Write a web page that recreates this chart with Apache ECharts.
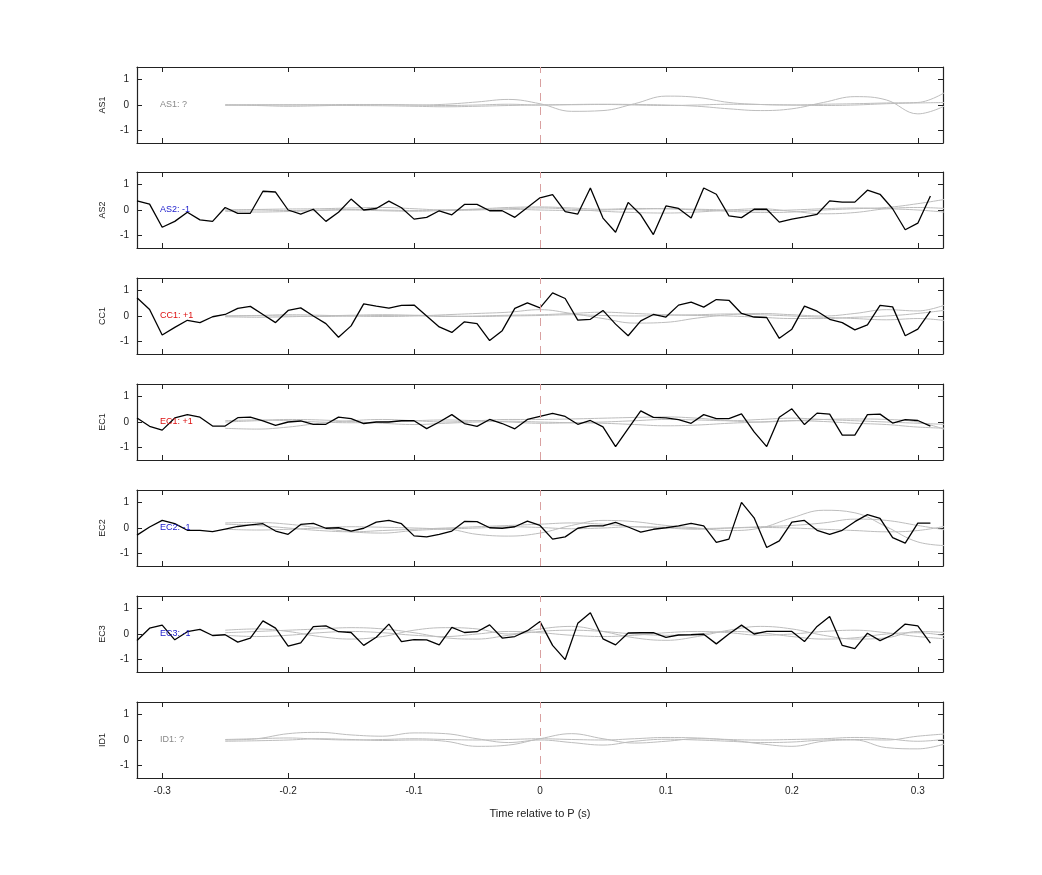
<!DOCTYPE html>
<html>
<head>
<meta charset="utf-8">
<script src="https://cdn.jsdelivr.net/npm/echarts@6/dist/echarts.min.js"></script>
<style>
  html, body { margin: 0; padding: 0; background: #fff; }
  #chart { width: 1042px; height: 875px; }
</style>
</head>
<body>
<div id="chart"></div>
<script>
// black traces, sampled every 0.01 s from -0.32 to 0.31
var traceTimes = [];
for (var i = 0; i < 64; i++) { traceTimes.push(Math.round((-0.32 + i * 0.01) * 100) / 100); }

var as2Trace = [0.36, 0.23, -0.68, -0.45, -0.09, -0.39, -0.45, 0.10, -0.13, -0.13, 0.74, 0.71, 0, -0.16, 0.03, -0.45, -0.09, 0.43, 0, 0.06, 0.35, 0.09, -0.36, -0.29, -0.03, -0.19, 0.22, 0.22, -0.03, -0.03, -0.29, 0.10, 0.48, 0.61, -0.06, -0.16, 0.87, -0.32, -0.88, 0.30, -0.19, -0.97, 0.16, 0.06, -0.32, 0.87, 0.62, -0.23, -0.30, 0.03, 0.03, -0.48, -0.36, -0.27, -0.17, 0.36, 0.31, 0.31, 0.78, 0.62, 0.05, -0.78, -0.52, 0.55];
var cc1Trace = [0.72, 0.26, -0.75, -0.45, -0.17, -0.26, -0.03, 0.06, 0.30, 0.38, 0.06, -0.26, 0.22, 0.32, 0, -0.30, -0.84, -0.39, 0.48, 0.39, 0.31, 0.42, 0.43, 0, -0.43, -0.65, -0.23, -0.30, -0.97, -0.58, 0.30, 0.52, 0.32, 0.91, 0.69, -0.16, -0.13, 0.22, -0.32, -0.78, -0.19, 0.06, -0.04, 0.43, 0.55, 0.35, 0.65, 0.62, 0.10, -0.04, -0.06, -0.88, -0.52, 0.39, 0.19, -0.13, -0.26, -0.55, -0.35, 0.42, 0.36, -0.78, -0.52, 0.19];
var ec1Trace = [0.16, -0.17, -0.32, 0.16, 0.29, 0.19, -0.16, -0.16, 0.17, 0.19, 0.04, -0.13, 0, 0.04, -0.09, -0.09, 0.19, 0.13, -0.06, 0, 0, 0.05, 0.05, -0.26, 0, 0.29, -0.06, -0.17, 0.10, -0.06, -0.27, 0.10, 0.22, 0.34, 0.22, -0.09, 0.06, -0.19, -0.97, -0.26, 0.44, 0.18, 0.16, 0.09, -0.05, 0.29, 0.13, 0.13, 0.32, -0.39, -0.97, 0.19, 0.52, -0.10, 0.35, 0.31, -0.52, -0.52, 0.29, 0.31, -0.04, 0.09, 0.06, -0.16];
var ec2Trace = [-0.28, 0.04, 0.30, 0.17, -0.09, -0.09, -0.14, -0.04, 0.06, 0.12, 0.17, -0.12, -0.25, 0.14, 0.18, -0.01, 0.01, -0.12, -0.01, 0.23, 0.30, 0.17, -0.31, -0.35, -0.25, -0.12, 0.26, 0.25, 0.01, -0.01, 0.05, 0.27, 0.10, -0.44, -0.35, -0.01, 0.08, 0.08, 0.22, 0.04, -0.16, -0.05, 0.01, 0.08, 0.18, 0.08, -0.57, -0.44, 1.01, 0.40, -0.77, -0.51, 0.23, 0.30, -0.09, -0.25, -0.09, 0.25, 0.53, 0.38, -0.38, -0.60, 0.19, 0.19];
var ec3Trace = [-0.26, 0.23, 0.35, -0.23, 0.09, 0.18, -0.06, -0.03, -0.32, -0.16, 0.52, 0.23, -0.48, -0.35, 0.29, 0.32, 0.09, 0.06, -0.45, -0.13, 0.39, -0.30, -0.22, -0.23, -0.43, 0.26, 0.06, 0.09, 0.36, -0.16, -0.10, 0.13, 0.49, -0.45, -1.01, 0.42, 0.84, -0.19, -0.43, 0.04, 0.05, 0.05, -0.13, -0.04, -0.03, -0.01, -0.39, 0, 0.35, 0, 0.10, 0.10, 0.10, -0.30, 0.30, 0.69, -0.45, -0.58, 0.03, -0.26, -0.03, 0.39, 0.32, -0.36];

// gray traces, sampled every 0.025 s from -0.25 to 0.325
var grayTimes = [];
for (var k = 0; k < 24; k++) { grayTimes.push(Math.round((-0.25 + k * 0.025) * 1000) / 1000); }

var as1Gray = [
  [0, -0.02, -0.05, -0.03, 0, 0.01, 0, 0.03, 0.12, 0.22, 0.05, -0.25, -0.22, 0.05, 0.35, 0.3, 0.1, 0.02, 0, 0.03, 0.05, 0.08, 0.1, 0.6],
  [0, 0, 0.01, 0, -0.02, -0.03, -0.05, -0.07, -0.05, -0.02, 0, 0.02, 0.03, 0.02, 0, -0.05, -0.15, -0.22, -0.15, 0.1, 0.33, 0.2, -0.35, 0.05],
  [0, 0.01, 0, 0.01, 0.02, 0.02, 0, -0.02, 0, 0.03, 0, 0.01, 0.02, 0, -0.02, 0, 0.03, 0.02, 0, -0.02, 0, 0.05, 0.08, 0.1]
];
var as2Gray = [
  [0, 0.02, 0.04, 0.05, 0.08, 0.1, 0.05, 0, 0.04, 0.1, 0.12, 0.08, 0.03, 0.06, 0.05, 0.0, -0.05, -0.1, -0.08, 0, 0.05, 0.1, 0.25, 0.45],
  [-0.05, -0.08, -0.06, -0.02, 0, -0.03, -0.05, -0.02, 0, 0.05, 0.08, 0.03, -0.05, -0.1, -0.12, -0.08, 0, 0.05, -0.05, -0.15, -0.1, 0.05, 0.1, 0.05],
  [0, 0, -0.02, 0, 0.02, 0, -0.02, 0, 0.02, 0.03, 0, -0.02, 0, 0.03, 0.05, 0.03, 0, -0.03, 0, 0.05, 0.08, 0.05, 0, -0.1]
];
var cc1Gray = [
  [0, 0.02, 0.05, 0.03, 0, -0.02, 0, 0.05, 0.1, 0.15, 0.25, 0.1, -0.1, -0.28, -0.25, -0.08, 0.05, 0.1, 0.05, 0, 0.1, 0.25, 0.2, 0.5],
  [-0.03, -0.05, -0.03, 0, 0.03, 0.05, 0.02, -0.02, 0, 0.03, 0.05, 0.1, 0.15, 0.1, 0.05, 0.02, 0, -0.05, -0.1, -0.1, -0.05, 0, 0.1, 0.25],
  [0, 0.01, 0, -0.02, 0, 0.02, 0.03, 0, -0.02, 0, 0.02, 0.05, 0.02, 0, 0.03, 0.05, 0.08, 0.05, 0, -0.05, -0.1, -0.15, -0.1, -0.2]
];
var ec1Gray = [
  [-0.25, -0.28, -0.2, -0.05, 0.05, 0.1, 0.05, 0, 0.05, 0.1, 0.1, 0.12, 0.15, 0.18, 0.2, 0.15, 0.05, 0.0, 0.05, 0.1, 0.12, 0.1, 0, -0.35],
  [0, 0.05, 0.1, 0.08, 0.02, -0.05, -0.1, -0.05, 0, 0.03, 0, -0.03, -0.05, -0.1, -0.15, -0.12, -0.05, 0, 0.05, 0.02, -0.05, -0.1, -0.2, -0.25],
  [0.05, 0.08, 0.05, 0, -0.03, 0, 0.05, 0.08, 0.05, 0, -0.05, -0.03, 0, 0.05, 0.1, 0.08, 0.05, 0.1, 0.15, 0.1, 0.05, 0, -0.05, -0.1]
];
var ec2Gray = [
  [0.2, 0.22, 0.15, 0, -0.15, -0.2, -0.1, -0.05, -0.25, -0.32, -0.2, 0.1, 0.3, 0.25, 0.1, 0, -0.1, 0, 0.4, 0.7, 0.6, 0.05, -0.55, -0.7],
  [0.15, 0.1, 0.0, -0.1, -0.15, -0.1, -0.05, 0, 0.05, 0.1, 0.15, 0.2, 0.15, 0.05, 0, -0.05, 0, 0.05, 0.1, 0.2, 0.35, 0.3, 0.1, -0.1],
  [-0.05, -0.08, -0.05, 0, 0.05, 0.03, 0, -0.03, 0, 0.05, 0.02, -0.03, 0, 0.05, 0.03, -0.02, 0, 0.02, 0, -0.05, -0.1, -0.15, -0.1, 0.1]
];
var ec3Gray = [
  [0.15, 0.2, 0.1, -0.1, -0.2, -0.1, 0.15, 0.25, 0.2, 0, 0.2, 0.3, 0.1, -0.15, -0.25, -0.1, 0.15, 0.3, 0.2, -0.05, -0.2, -0.15, 0.1, 0.05],
  [0.05, 0.1, 0.15, 0.2, 0.25, 0.2, 0.05, -0.15, -0.2, -0.05, 0.1, 0.15, 0.1, 0, -0.05, 0, 0.1, 0.05, -0.1, -0.2, -0.15, 0, 0.05, -0.1],
  [-0.05, -0.1, -0.05, 0.05, 0.1, 0.05, -0.05, -0.1, 0, 0.1, 0.05, -0.05, -0.1, -0.05, 0.05, 0.1, 0.05, -0.05, 0, 0.1, 0.15, 0.05, -0.1, -0.2]
];
var id1Gray = [
  [0, 0.05, 0.25, 0.3, 0.2, 0.15, 0.28, 0.25, 0.05, -0.1, 0.0, -0.1, -0.2, -0.05, 0.03, 0, -0.05, -0.1, -0.08, 0, 0.02, 0, 0.15, 0.25],
  [-0.05, -0.03, 0, 0.05, 0.02, -0.02, 0, -0.05, -0.25, -0.2, 0.05, 0.25, 0.05, -0.12, -0.05, 0.05, 0.0, -0.15, -0.25, -0.05, 0.0, -0.3, -0.35, -0.1],
  [0.02, 0.05, 0.08, 0.03, 0, 0.02, 0.05, 0.02, 0, 0.02, 0.05, 0.02, 0, 0.05, 0.1, 0.08, 0.02, 0, 0.02, 0.05, 0.1, 0.05, -0.05, 0.05]
];

var panelNames = ["AS1", "AS2", "CC1", "EC1", "EC2", "EC3", "ID1"];
var panelTags = ["AS1: ?", "AS2: -1", "CC1: +1", "EC1: +1", "EC2: -1", "EC3: -1", "ID1: ?"];
var tagColors = ["#888888", "#1a1acc", "#dd1111", "#dd1111", "#1a1acc", "#1a1acc", "#888888"];
var panelTraces = [null, as2Trace, cc1Trace, ec1Trace, ec2Trace, ec3Trace, null];
var panelGrays = [as1Gray, as2Gray, cc1Gray, ec1Gray, ec2Gray, ec3Gray, id1Gray];
var xTicks = [-0.3, -0.2, -0.1, 0, 0.1, 0.2, 0.3];
var yTicks = [-1, 0, 1];

var panelTops = [67, 172, 278, 384, 490, 596, 702];
var panelHeight = 76;
var font = "Helvetica, Arial, 'Liberation Sans', sans-serif";

var grids = [], xAxes = [], yAxes = [], series = [], titles = [];

panelNames.forEach(function (name, p) {
    grids.push({ left: 137, width: 806, top: panelTops[p], height: panelHeight });
    var last = p === panelNames.length - 1;
    ["bottom", "top"].forEach(function (pos) {
        xAxes.push({
            type: "value", gridIndex: p, position: pos, min: -0.32, max: 0.32,
            axisLine: { show: true, onZero: false, lineStyle: { color: "#222", width: 1.2 } },
            axisTick: { show: true, inside: true, length: 5, customValues: xTicks, lineStyle: { color: "#222" } },
            axisLabel: { show: last && pos === "bottom", customValues: xTicks, color: "#222", fontSize: 10, fontFamily: font, margin: 8 },
            splitLine: { show: false },
            name: last && pos === "bottom" ? "Time relative to P (s)" : "",
            nameLocation: "middle", nameGap: 30,
            nameTextStyle: { color: "#222", fontSize: 11, fontFamily: font }
        });
    });
    ["left", "right"].forEach(function (pos) {
        yAxes.push({
            type: "value", gridIndex: p, position: pos, min: -1.5, max: 1.5,
            axisLine: { show: true, onZero: false, lineStyle: { color: "#222", width: 1.2 } },
            axisTick: { show: true, inside: true, length: 5, customValues: yTicks, lineStyle: { color: "#222" } },
            axisLabel: { show: pos === "left", customValues: yTicks, color: "#222", fontSize: 10, fontFamily: font, margin: 8 },
            splitLine: { show: false },
            name: pos === "left" ? name : "",
            nameLocation: "middle", nameGap: 30, nameRotate: 90,
            nameTextStyle: { color: "#222", fontSize: 9, fontFamily: font }
        });
    });
    titles.push({
        text: panelTags[p], left: 155, top: panelTops[p] + panelHeight / 2 - 10,
        textStyle: { color: tagColors[p], fontSize: 9, fontWeight: "normal", fontFamily: font }
    });

    panelGrays[p].forEach(function (g, gi) {
        series.push({
            type: "line", xAxisIndex: p * 2, yAxisIndex: p * 2, smooth: 0.4, symbol: "none",
            lineStyle: { color: "#bdbdbd", width: 1 },
            data: grayTimes.map(function (t, j) { return [t, g[j]]; }),
            markLine: gi === 0 ? {
                silent: true, symbol: "none", label: { show: false },
                lineStyle: { color: "#d9a0a0", type: [8, 6], width: 1 },
                data: [{ xAxis: 0 }]
            } : undefined
        });
    });
    if (panelTraces[p]) {
        series.push({
            type: "line", xAxisIndex: p * 2, yAxisIndex: p * 2, symbol: "none",
            lineStyle: { color: "#000", width: 1.3 },
            data: traceTimes.map(function (t, j) { return [t, panelTraces[p][j]]; })
        });
    }
});

var chart = echarts.init(document.getElementById("chart"));
chart.setOption({
    animation: false,
    backgroundColor: "#fff",
    title: titles,
    grid: grids,
    xAxis: xAxes,
    yAxis: yAxes,
    series: series
});
</script>
</body>
</html>
